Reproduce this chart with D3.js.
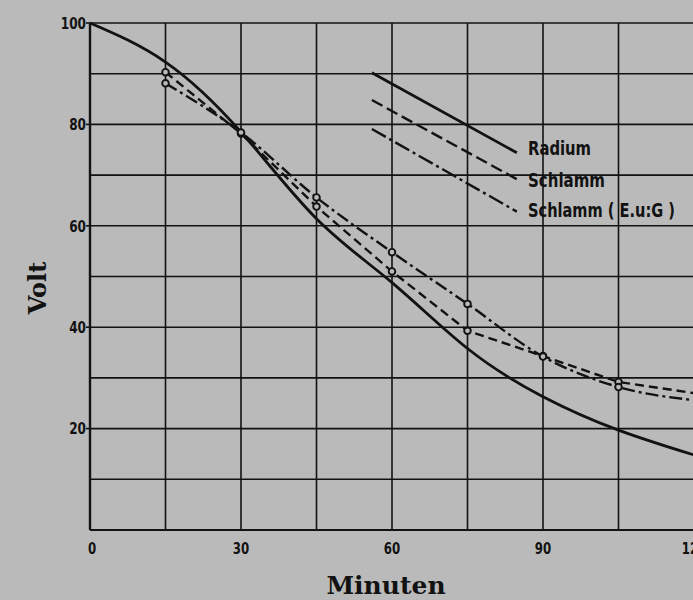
<!DOCTYPE html>
<html>
<head>
<meta charset="utf-8">
<script src="https://cdn.jsdelivr.net/npm/d3@7"></script>
<style>
  body { margin: 0; background: #bababa; }
  svg { display: block; }
</style>
</head>
<body>
<div id="chart"></div>
<script>
// data (minutes -> volt)
var minutes = [0, 15, 30, 45, 60, 75, 90, 105, 120];
var radium = [100, 92.3, 78.5, 61.4, 48.8, 35.8, 26.3, 19.7, 14.8];
var schlammMin = [15, 30, 45, 60, 75, 90, 105, 120];
var schlamm = [90.3, 78.2, 63.8, 51, 39.3, 34.3, 29.2, 27];
var schlammEuG = [88.1, 78.4, 65.6, 54.8, 44.6, 34.2, 28.2, 25.6];

var xTicks = [0, 30, 60, 90, 120];
var yTicks = [20, 40, 60, 80, 100];
var legendNames = ["Radium", "Schlamm", "Schlamm ( E.u:G )"];

var width = 693, height = 600;
var paper = "#bababa";

var svg = d3.select("#chart")
  .append("svg")
    .attr("width", width)
    .attr("height", height);

svg.append("rect")
  .attr("width", width)
  .attr("height", height)
  .attr("fill", paper);

var x = d3.scaleLinear().domain([0, 120]).range([90, 694]);
var y = d3.scaleLinear().domain([0, 100]).range([530, 23]);

var ink = "#121212";
var narrow = "'Liberation Sans Narrow', 'DejaVu Sans', sans-serif";

// grid
svg.append("g")
  .selectAll("line")
  .data(d3.range(0, 101, 10))
  .enter()
  .append("line")
    .attr("x1", x(0))
    .attr("x2", x(120))
    .attr("y1", function(d) { return y(d); })
    .attr("y2", function(d) { return y(d); })
    .attr("stroke", ink)
    .attr("stroke-width", function(d) { return d === 0 ? 2.2 : 1.6; });

svg.append("g")
  .selectAll("line")
  .data(d3.range(0, 121, 15))
  .enter()
  .append("line")
    .attr("x1", function(d) { return x(d); })
    .attr("x2", function(d) { return x(d); })
    .attr("y1", y(100))
    .attr("y2", y(0))
    .attr("stroke", ink)
    .attr("stroke-width", function(d) { return d === 0 ? 2.4 : 1.6; });

// small left ticks
svg.append("g")
  .selectAll("line")
  .data(yTicks)
  .enter()
  .append("line")
    .attr("x1", x(0) - 4)
    .attr("x2", x(0))
    .attr("y1", function(d) { return y(d); })
    .attr("y2", function(d) { return y(d); })
    .attr("stroke", ink)
    .attr("stroke-width", 1.6);

// tick labels
svg.append("g")
  .selectAll("text")
  .data(yTicks)
  .enter()
  .append("text")
    .attr("x", x(0) - 4)
    .attr("y", function(d) { return y(d); })
    .attr("dy", "0.36em")
    .attr("text-anchor", "end")
    .attr("font-family", narrow)
    .attr("font-weight", "bold")
    .attr("font-size", 16)
    .attr("textLength", function(d) { return String(d).length * 8.4; })
    .attr("lengthAdjust", "spacingAndGlyphs")
    .attr("fill", ink)
    .text(function(d) { return d; });

svg.append("g")
  .selectAll("text")
  .data(xTicks)
  .enter()
  .append("text")
    .attr("x", function(d) { return d === 0 ? x(d) - 2 : x(d); })
    .attr("y", 554)
    .attr("text-anchor", function(d) { return d === 0 ? "start" : "middle"; })
    .attr("font-family", narrow)
    .attr("font-weight", "bold")
    .attr("font-size", 15)
    .attr("textLength", function(d) { return String(d).length * 8.2; })
    .attr("lengthAdjust", "spacingAndGlyphs")
    .attr("fill", ink)
    .text(function(d) { return d; });

// axis titles
svg.append("text")
  .attr("x", 386)
  .attr("y", 594)
  .attr("text-anchor", "middle")
  .attr("font-family", "'DejaVu Serif', serif")
  .attr("font-weight", "bold")
  .attr("font-size", 25)
  .attr("fill", ink)
  .text("Minuten");

svg.append("text")
  .attr("transform", "translate(46,288)rotate(-90)")
  .attr("text-anchor", "middle")
  .attr("font-family", "'DejaVu Serif', serif")
  .attr("font-weight", "bold")
  .attr("font-size", 24)
  .attr("fill", ink)
  .text("Volt");

// curves
var radiumLine = d3.line()
  .x(function(d, i) { return x(minutes[i]); })
  .y(function(d) { return y(d); })
  .curve(d3.curveNatural);

var sLine = d3.line()
  .x(function(d, i) { return x(schlammMin[i]); })
  .y(function(d) { return y(d); })
  .curve(d3.curveMonotoneX);

svg.append("path")
  .datum(schlammEuG)
  .attr("d", sLine)
  .attr("fill", "none")
  .attr("stroke", ink)
  .attr("stroke-width", 2.4)
  .attr("stroke-dasharray", "13,4,3,4");

svg.append("path")
  .datum(schlamm)
  .attr("d", sLine.curve(d3.curveLinear))
  .attr("fill", "none")
  .attr("stroke", ink)
  .attr("stroke-width", 2.4)
  .attr("stroke-dasharray", "9,5");

svg.append("path")
  .datum(radium)
  .attr("d", radiumLine)
  .attr("fill", "none")
  .attr("stroke", ink)
  .attr("stroke-width", 2.8);

// markers
[schlamm, schlammEuG].forEach(function(series) {
  svg.append("g")
    .selectAll("circle")
    .data(series.slice(0, 7))
    .enter()
    .append("circle")
      .attr("cx", function(d, i) { return x(schlammMin[i]); })
      .attr("cy", function(d) { return y(d); })
      .attr("r", 3.3)
      .attr("fill", paper)
      .attr("stroke", ink)
      .attr("stroke-width", 1.9);
});

// legend (positions in data units)
var legendLines = [
  {x1: 56, y1: 90.2, x2: 84.8, y2: 74.4, dash: null, w: 2.8},
  {x1: 56, y1: 84.8, x2: 84.8, y2: 69.2, dash: "12,5", w: 2.4},
  {x1: 56, y1: 79.1, x2: 84.8, y2: 62.8, dash: "16,4,3,4", w: 2.4}
];
var legendTextY = [155, 187, 217];
var legendTextW = [63, 77, 147];

svg.append("g")
  .selectAll("line")
  .data(legendLines)
  .enter()
  .append("line")
    .attr("x1", function(d) { return x(d.x1); })
    .attr("y1", function(d) { return y(d.y1); })
    .attr("x2", function(d) { return x(d.x2); })
    .attr("y2", function(d) { return y(d.y2); })
    .attr("stroke", ink)
    .attr("stroke-width", function(d) { return d.w; })
    .attr("stroke-dasharray", function(d) { return d.dash; });

svg.append("g")
  .selectAll("text")
  .data(legendNames)
  .enter()
  .append("text")
    .attr("x", 528)
    .attr("y", function(d, i) { return legendTextY[i]; })
    .attr("font-family", narrow)
    .attr("font-weight", "bold")
    .attr("font-size", 20)
    .attr("textLength", function(d, i) { return legendTextW[i]; })
    .attr("lengthAdjust", "spacingAndGlyphs")
    .attr("fill", ink)
    .text(function(d) { return d; });
</script>
</body>
</html>
